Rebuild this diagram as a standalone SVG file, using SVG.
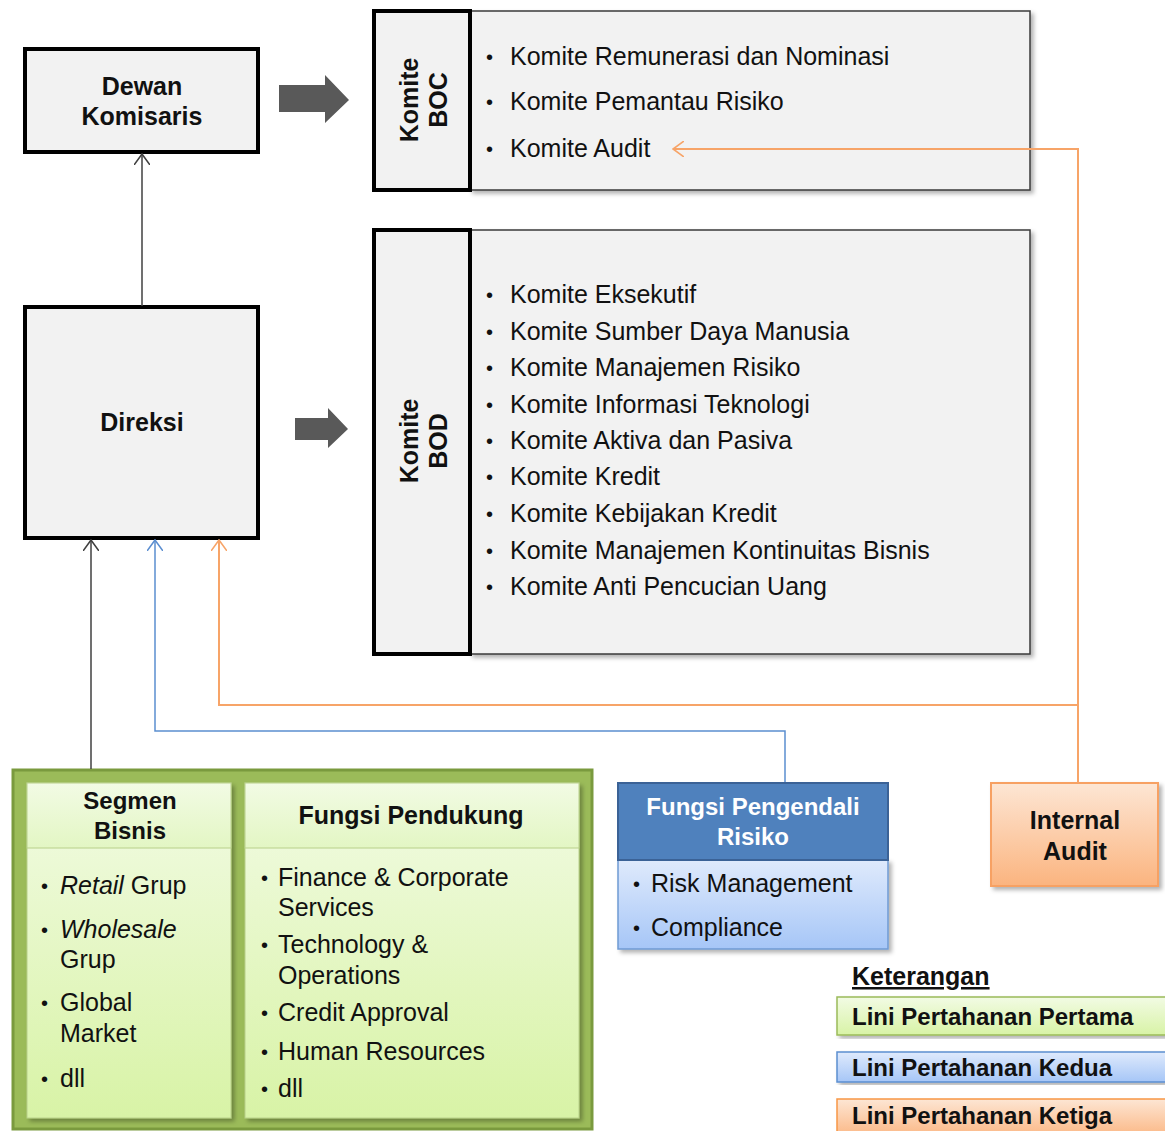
<svg xmlns="http://www.w3.org/2000/svg" width="1165" height="1131" viewBox="0 0 1165 1131">
<defs>
  <filter id="sh" x="-5%" y="-5%" width="115%" height="115%">
    <feDropShadow dx="3" dy="3" stdDeviation="2" flood-color="#000" flood-opacity="0.3"/>
  </filter>
  <linearGradient id="gGreen" x1="0" y1="0" x2="0" y2="1">
    <stop offset="0" stop-color="#f2fbe4"/>
    <stop offset="1" stop-color="#d8f3a6"/>
  </linearGradient>
  <linearGradient id="gGreenH" x1="0" y1="0" x2="0" y2="1">
    <stop offset="0" stop-color="#f2fbe4"/>
    <stop offset="1" stop-color="#e3f6c4"/>
  </linearGradient>
  <linearGradient id="gBlue" x1="0" y1="0" x2="0" y2="1">
    <stop offset="0" stop-color="#dfeafc"/>
    <stop offset="1" stop-color="#a6c6f7"/>
  </linearGradient>
  <linearGradient id="gOrange" x1="0" y1="0" x2="0" y2="1">
    <stop offset="0" stop-color="#fde6d4"/>
    <stop offset="1" stop-color="#fbb47f"/>
  </linearGradient>
  <marker id="aBlack" viewBox="0 0 12 16" refX="11" refY="8" markerWidth="12" markerHeight="16" markerUnits="userSpaceOnUse" orient="auto">
    <path d="M0,0 L11,8 L0,16" fill="none" stroke="#404040" stroke-width="1.6"/>
  </marker>
  <marker id="aBlue" viewBox="0 0 12 16" refX="11" refY="8" markerWidth="12" markerHeight="16" markerUnits="userSpaceOnUse" orient="auto">
    <path d="M0,0 L11,8 L0,16" fill="none" stroke="#5b8ed0" stroke-width="1.6"/>
  </marker>
  <marker id="aOrange" viewBox="0 0 12 16" refX="11" refY="8" markerWidth="12" markerHeight="16" markerUnits="userSpaceOnUse" orient="auto">
    <path d="M0,0 L11,8 L0,16" fill="none" stroke="#f7a468" stroke-width="1.6"/>
  </marker>
</defs>
<style>
  text { font-family: "Liberation Sans", Arial, sans-serif; fill: #111; }
  .b { font-weight: bold; font-size: 25px; }
  .c { text-anchor: middle; }
  .it { font-size: 25px; }
  .bu { font-size: 20px; }
  .lg { font-weight: bold; font-size: 24px; }
  .wh { fill: #ffffff; }
  .mainbox { fill: #f2f2f2; stroke: #000; stroke-width: 4; }
  .content { fill: #f2f2f2; stroke: #3a3a3a; stroke-width: 1.5; }
  .blk { fill: #595959; }
  .cb { fill: none; stroke: #404040; stroke-width: 1.5; }
  .cbl { fill: none; stroke: #5b8ed0; stroke-width: 1.5; }
  .co { fill: none; stroke: #f7a468; stroke-width: 2; }
</style>

<g id="arrow-boc">
  <polygon class="blk" points="279,85 325,85 325,75 349,100 325,123 325,112 279,112"/>
</g>
<g id="arrow-bod">
  <polygon class="blk" points="295,418 328,418 328,408 348,429 328,448 328,440 295,440"/>
</g>

<g id="dewan-komisaris">
  <rect class="mainbox" x="25" y="49" width="233" height="103"/>
  <text class="b c" x="142" y="95">Dewan</text>
  <text class="b c" x="142" y="125">Komisaris</text>
</g>

<g id="direksi">
  <rect class="mainbox" x="25" y="307" width="233" height="231"/>
  <text class="b c" x="142" y="431">Direksi</text>
</g>

<g id="komite-boc">
  <rect class="content" x="470" y="11" width="560" height="179" filter="url(#sh)"/>
  <rect class="mainbox" x="374" y="11" width="96" height="179"/>
  <g transform="translate(421,100) rotate(-90)">
    <text class="b c" x="0" y="-3">Komite</text>
    <text class="b c" x="0" y="26">BOC</text>
  </g>
  <text class="bu" x="486" y="64">•</text><text class="it" x="510" y="65">Komite Remunerasi dan Nominasi</text>
  <text class="bu" x="486" y="109">•</text><text class="it" x="510" y="110">Komite Pemantau Risiko</text>
  <text class="bu" x="486" y="156">•</text><text class="it" x="510" y="157">Komite Audit</text>
</g>

<g id="komite-bod">
  <rect class="content" x="470" y="230" width="560" height="424" filter="url(#sh)"/>
  <rect class="mainbox" x="374" y="230" width="96" height="424"/>
  <g transform="translate(421,441) rotate(-90)">
    <text class="b c" x="0" y="-3">Komite</text>
    <text class="b c" x="0" y="26">BOD</text>
  </g>
  <text class="bu" x="486" y="302">•</text><text class="it" x="510" y="303">Komite Eksekutif</text>
  <text class="bu" x="486" y="339">•</text><text class="it" x="510" y="340">Komite Sumber Daya Manusia</text>
  <text class="bu" x="486" y="375">•</text><text class="it" x="510" y="376">Komite Manajemen Risiko</text>
  <text class="bu" x="486" y="412">•</text><text class="it" x="510" y="413">Komite Informasi Teknologi</text>
  <text class="bu" x="486" y="448">•</text><text class="it" x="510" y="449">Komite Aktiva dan Pasiva</text>
  <text class="bu" x="486" y="484">•</text><text class="it" x="510" y="485">Komite Kredit</text>
  <text class="bu" x="486" y="521">•</text><text class="it" x="510" y="522">Komite Kebijakan Kredit</text>
  <text class="bu" x="486" y="558">•</text><text class="it" x="510" y="559">Komite Manajemen Kontinuitas Bisnis</text>
  <text class="bu" x="486" y="594">•</text><text class="it" x="510" y="595">Komite Anti Pencucian Uang</text>
</g>

<g id="lini-pertama-group">
  <rect x="13" y="770" width="579" height="359" fill="#9bbb59" stroke="#7a9a3e" stroke-width="3"/>
</g>

<g id="segmen-bisnis">
  <rect x="27" y="783" width="204" height="335" fill="url(#gGreen)" stroke="#b8d08a" stroke-width="1" filter="url(#sh)"/>
  <rect x="27" y="783" width="204" height="65" fill="url(#gGreenH)" stroke="#b8d08a" stroke-width="1"/>
  <text class="b c" x="130" y="809" style="font-size:24px">Segmen</text>
  <text class="b c" x="130" y="839" style="font-size:24px">Bisnis</text>
  <text class="bu" x="41" y="893">•</text><text class="it" x="60" y="894"><tspan font-style="italic">Retail</tspan> Grup</text>
  <text class="bu" x="41" y="937">•</text><text class="it" x="60" y="938" font-style="italic">Wholesale</text>
  <text class="it" x="60" y="968">Grup</text>
  <text class="bu" x="41" y="1010">•</text><text class="it" x="60" y="1011">Global</text>
  <text class="it" x="60" y="1042">Market</text>
  <text class="bu" x="41" y="1086">•</text><text class="it" x="60" y="1087">dll</text>
</g>

<g id="fungsi-pendukung">
  <rect x="245" y="783" width="334" height="335" fill="url(#gGreen)" stroke="#b8d08a" stroke-width="1" filter="url(#sh)"/>
  <rect x="245" y="783" width="334" height="65" fill="url(#gGreenH)" stroke="#b8d08a" stroke-width="1"/>
  <text class="b c" x="411" y="824">Fungsi Pendukung</text>
  <text class="bu" x="261" y="885">•</text><text class="it" x="278" y="886">Finance &amp; Corporate</text>
  <text class="it" x="278" y="916">Services</text>
  <text class="bu" x="261" y="952">•</text><text class="it" x="278" y="953">Technology &amp;</text>
  <text class="it" x="278" y="984">Operations</text>
  <text class="bu" x="261" y="1020">•</text><text class="it" x="278" y="1021">Credit Approval</text>
  <text class="bu" x="261" y="1059">•</text><text class="it" x="278" y="1060">Human Resources</text>
  <text class="bu" x="261" y="1096">•</text><text class="it" x="278" y="1097">dll</text>
</g>

<g id="fungsi-pengendali-risiko">
  <rect x="618" y="860" width="270" height="89" fill="url(#gBlue)" stroke="#6f9ad3" stroke-width="1.5" filter="url(#sh)"/>
  <rect x="618" y="783" width="270" height="77" fill="#4f81bd" stroke="#3b6296" stroke-width="2"/>
  <text class="b c wh" x="753" y="815" style="font-size:24px">Fungsi Pengendali</text>
  <text class="b c wh" x="753" y="845" style="font-size:24px">Risiko</text>
  <text class="bu" x="633" y="891">•</text><text class="it" x="651" y="892">Risk Management</text>
  <text class="bu" x="633" y="935">•</text><text class="it" x="651" y="936">Compliance</text>
</g>

<g id="internal-audit">
  <rect x="991" y="783" width="167" height="103" fill="url(#gOrange)" stroke="#f7a164" stroke-width="2" filter="url(#sh)"/>
  <text class="b c" x="1075" y="829">Internal</text>
  <text class="b c" x="1075" y="860">Audit</text>
</g>

<g id="keterangan">
  <text class="b" x="852" y="985" text-decoration="underline">Keterangan</text>
  <rect x="837" y="997" width="335" height="38" fill="url(#gGreen)" stroke="#9bbb59" stroke-width="1.5" filter="url(#sh)"/>
  <text class="lg" x="852" y="1025">Lini Pertahanan Pertama</text>
  <rect x="837" y="1052" width="335" height="30" fill="url(#gBlue)" stroke="#5b8ed0" stroke-width="1.5" filter="url(#sh)"/>
  <text class="lg" x="852" y="1076">Lini Pertahanan Kedua</text>
  <rect x="837" y="1099" width="335" height="40" fill="url(#gOrange)" stroke="#f79646" stroke-width="1.5"/>
  <text class="lg" x="852" y="1124">Lini Pertahanan Ketiga</text>
</g>

<g id="connectors">
  <path class="cb" d="M142,306 V154" marker-end="url(#aBlack)"/>
  <path class="cb" d="M91,769 V540" marker-end="url(#aBlack)"/>
  <path class="cbl" d="M785,782 V731 H155 V540" marker-end="url(#aBlue)"/>
  <path class="co" d="M1078,783 V705 H219 V540" marker-end="url(#aOrange)"/>
  <path class="co" d="M1078,705 V149 H673" marker-end="url(#aOrange)"/>
</g>
</svg>
